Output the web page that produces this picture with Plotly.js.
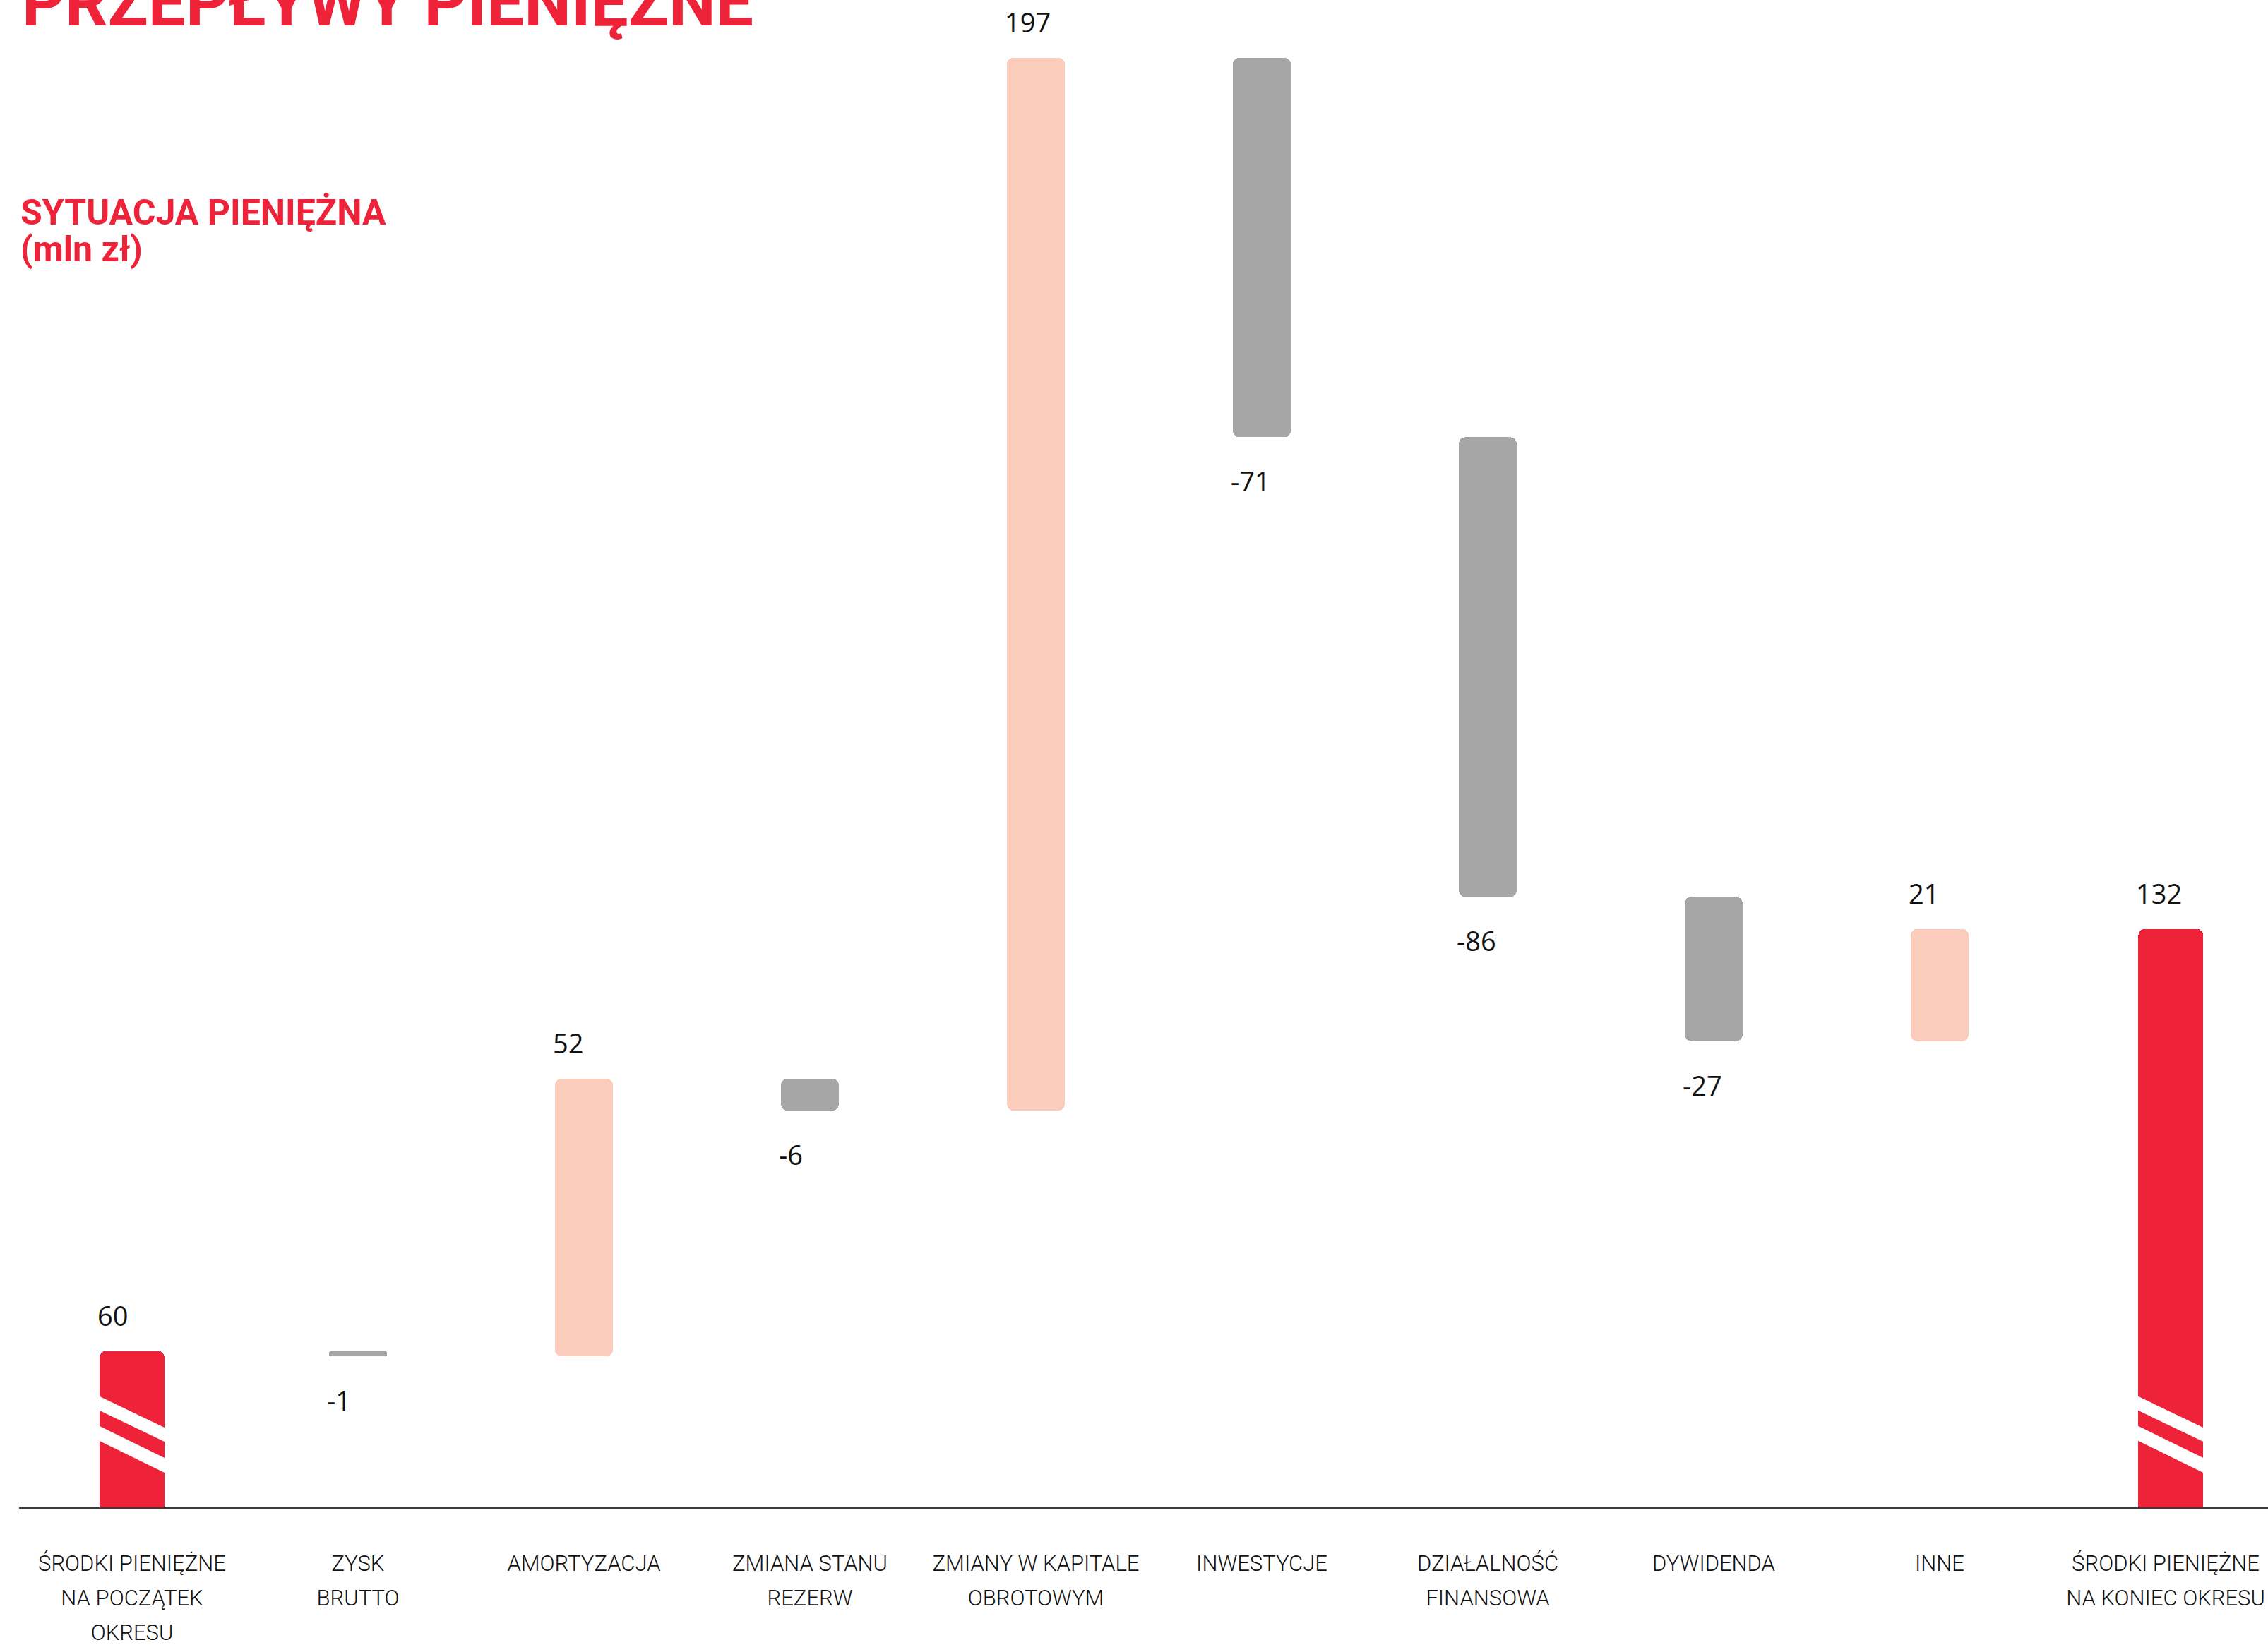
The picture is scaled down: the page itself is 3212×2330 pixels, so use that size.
<!DOCTYPE html>
<html>
<head>
<meta charset="utf-8">
<script src="https://cdn.plot.ly/plotly-3.0.1.min.js"></script>
<style>
  html, body { margin: 0; padding: 0; background: #ffffff; }
  #chart { width: 3212px; height: 2330px; }
</style>
</head>
<body>
<div id="chart"></div>
<script>
// ---- data ----
const categories = [
  "ŚRODKI PIENIĘŻNE<br>NA POCZĄTEK<br>OKRESU",
  "ZYSK<br>BRUTTO",
  "AMORTYZACJA",
  "ZMIANA STANU<br>REZERW",
  "ZMIANY W KAPITALE<br>OBROTOWYM",
  "INWESTYCJE",
  "DZIAŁALNOŚĆ<br>FINANSOWA",
  "DYWIDENDA",
  "INNE",
  "ŚRODKI PIENIĘŻNE<br>NA KONIEC OKRESU"
];
const values = [60, -1, 52, -6, 197, -71, -86, -27, 21, 132];
const measures = ["total", "relative", "relative", "relative", "relative",
                  "relative", "relative", "relative", "relative", "total"];

// ---- styles ----
const RED = "#ee2238", PEACH = "#fbcbbc", GREY = "#a6a6a6";
const WIDTH_TOTAL = 0.2875, WIDTH_STEP = 0.256;
const NUDGE = [0, 0, 0, 0, 0, 0, 0, 0, 0, 0.023];   // small horizontal shift of a bar (style)

// ---- build waterfall geometry from the data ----
const xs = [], bases = [], heights = [], colors = [], widths = [], offsets = [];
let running = 0;
values.forEach((v, i) => {
  xs.push(i);
  if (measures[i] === "total") {
    if (i === 0) running = v;
    bases.push(0); heights.push(running);
    colors.push(RED); widths.push(WIDTH_TOTAL);
  } else if (v >= 0) {
    bases.push(running); heights.push(v);
    running += v;
    colors.push(PEACH); widths.push(WIDTH_STEP);
  } else {
    running += v;
    bases.push(running); heights.push(-v);
    colors.push(GREY); widths.push(WIDTH_STEP);
  }
  offsets.push(-widths[i] / 2 + NUDGE[i]);
});

const Y_MIN = 30.76, Y_MAX = 304.9;

const trace = {
  type: "bar",
  x: xs,
  y: heights,
  base: bases,
  width: widths,
  offset: offsets,
  marker: { color: colors, line: { width: 0 }, cornerradius: 9 },
  hoverinfo: "skip",
  showlegend: false
};

// value labels
const annotations = [];
values.forEach((v, i) => {
  const neg = measures[i] !== "total" && v < 0;
  annotations.push({
    x: i + offsets[i], xref: "x", xanchor: "left", xshift: -5,
    y: neg ? bases[i] : bases[i] + heights[i], yref: "y",
    yanchor: neg ? "top" : "bottom",
    yshift: neg ? -34 : 23,
    text: String(v),
    showarrow: false,
    font: { family: "Open Sans, sans-serif", size: 38, color: "#111111" }
  });
});

// titles
annotations.push({
  xref: "paper", yref: "paper", x: 0, xshift: 2, y: 1, yshift: -1,
  xanchor: "left", yanchor: "bottom", showarrow: false,
  text: "PRZEPŁYWY PIENIĘŻNE",
  font: { family: "Roboto, sans-serif", size: 94.5, weight: 700, color: RED }
});
annotations.push({
  xref: "paper", yref: "paper", x: 0, xshift: 0, y: 0.884,
  xanchor: "left", yanchor: "middle", showarrow: false,
  text: "SYTUACJA PIENIĘŻNA",
  font: { family: "Roboto, sans-serif", size: 50, weight: 700, color: RED }
});
annotations.push({
  xref: "paper", yref: "paper", x: 0, xshift: 0, y: 0.859,
  xanchor: "left", yanchor: "middle", showarrow: false,
  text: "(mln zł)",
  font: { family: "Roboto, sans-serif", size: 50, weight: 700, color: RED }
});

// axis-break stripes on the total bars
const shapes = [];
values.forEach((v, i) => {
  if (measures[i] !== "total") return;
  const bands = [
    [-4, 158.9, 138.9, 96, 111.1, 91.1],
    [-4, 116.9, 95.9, 96, 68.1, 47.1]
  ];
  bands.forEach(b => {
    shapes.push({
      type: "path", layer: "above",
      xref: "x", yref: "y",
      xsizemode: "pixel", ysizemode: "pixel",
      xanchor: i + offsets[i], yanchor: Y_MIN,
      path: `M ${b[0]},${b[1]} L ${b[3]},${b[4]} L ${b[3]},${b[5]} L ${b[0]},${b[2]} Z`,
      fillcolor: "#ffffff", line: { width: 0 }
    });
  });
});

// tick labels: larger line pitch, smaller glyphs
const tickText = categories.map(c =>
  c.split("<br>").map(line => `<span style="font-size:31px">${line}</span>`).join("<br>")
);

const layout = {
  width: 3212, height: 2330,
  margin: { l: 27, r: 0, t: 60, b: 195, pad: 0 },
  paper_bgcolor: "#ffffff", plot_bgcolor: "#ffffff",
  xaxis: {
    range: [-0.5, 9.453],
    tickmode: "array", tickvals: xs, ticktext: tickText,
    ticks: "", showgrid: false, zeroline: false,
    showline: true, linecolor: "#3c3c3c", linewidth: 2,
    ticklabelstandoff: 42,
    tickfont: { family: "Roboto, sans-serif", size: 38, weight: 300, color: "#111111" },
    fixedrange: true
  },
  yaxis: {
    range: [Y_MIN, Y_MAX],
    showgrid: false, zeroline: false, showline: false,
    showticklabels: false, ticks: "", fixedrange: true
  },
  bargap: 0,
  annotations: annotations,
  shapes: shapes,
  showlegend: false
};

Plotly.newPlot("chart", [trace], layout, { displayModeBar: false, staticPlot: true });
</script>
</body>
</html>
